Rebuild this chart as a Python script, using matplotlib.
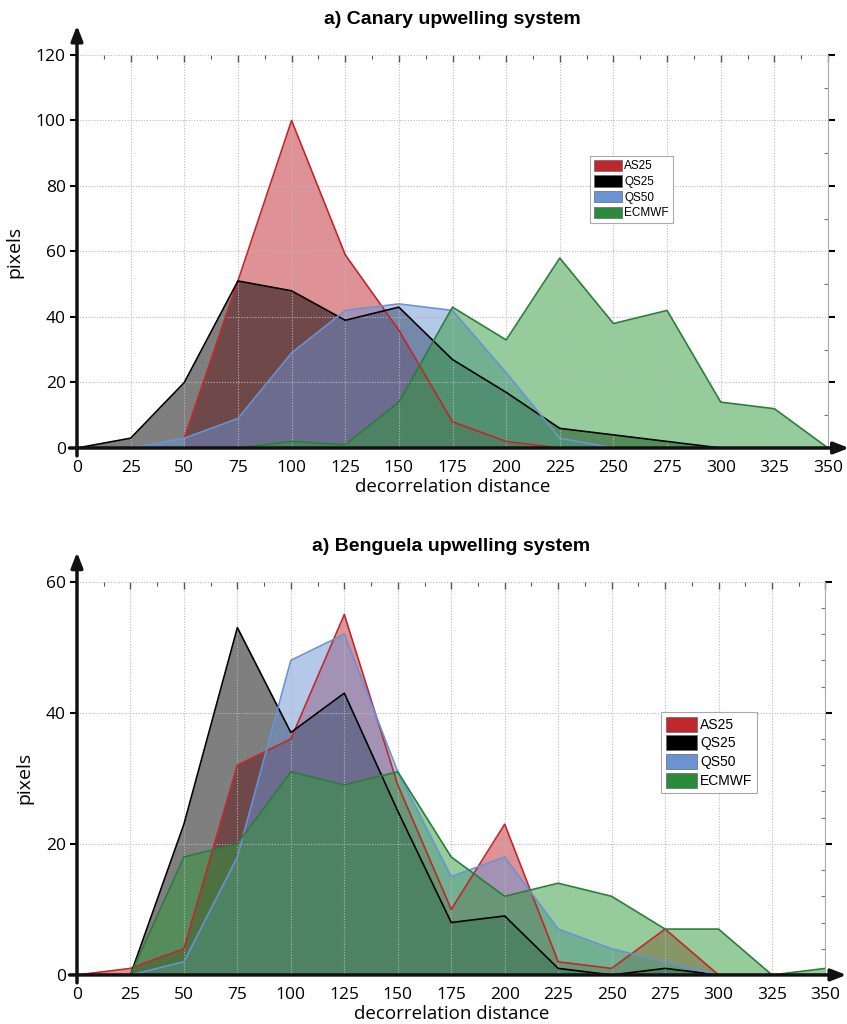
#!/usr/bin/env python3

import numpy as np
import matplotlib
matplotlib.use('Agg')
import matplotlib.pyplot as plt
from matplotlib.patches import Patch

# decorrelation distance bins
distance = [0, 25, 50, 75, 100, 125, 150, 175, 200, 225, 250, 275, 300, 325, 350]
nan = np.nan

# Canary upwelling system
canary_as25 = [nan, nan, 3, 51, 100, 59, 36, 8, 2, 0, nan, nan, nan, nan, nan]
canary_qs25 = [0, 3, 20, 51, 48, 39, 43, 27, 17, 6, 4, 2, 0, nan, nan]
canary_qs50 = [nan, 0, 3, 9, 29, 42, 44, 42, 23, 3, 0, nan, nan, nan, nan]
canary_ecmwf = [nan, nan, nan, 0, 2, 1, 14, 43, 33, 58, 38, 42, 14, 12, 0]

# Benguela upwelling system
benguela_as25 = [0, 1, 4, 32, 36, 55, 29, 10, 23, 2, 1, 7, 0, nan, nan]
benguela_qs25 = [nan, 0, 23, 53, 37, 43, 25, 8, 9, 1, 0, 1, 0, 0, 0]
benguela_qs50 = [nan, 0, 2, 18, 48, 52, 31, 15, 18, 7, 4, 2, 0, nan, nan]
benguela_ecmwf = [nan, 0, 18, 20, 31, 29, 31, 18, 12, 14, 12, 7, 7, 0, 1]

names = ['AS25', 'QS25', 'QS50', 'ECMWF']
line_colors = ['#c0272d', '#000000', '#6a93d3', '#2b7d3a']
fill_colors = ['#c0272d', '#000000', '#6a93d3', '#2f9a3a']
legend_colors = ['#c0272d', '#000000', '#6a93d3', '#2a8b3c']

plt.rcParams['font.family'] = ['Open Sans', 'DejaVu Sans']


def draw_panel(ax, series, title, ymax, ystep, yminor, legend_box, legend_size,
               handle_h):
    x_all = np.array(distance, dtype=float)
    for vals, lc, fc in zip(series, line_colors, fill_colors):
        y = np.array(vals, dtype=float)
        ok = ~np.isnan(y)
        ax.fill_between(x_all[ok], y[ok], 0, color=fc, alpha=0.5, lw=0, zorder=1)
        ax.plot(x_all[ok], y[ok], color=lc, lw=1.2, zorder=2)

    ax.set_xlim(0, 350)
    ax.set_ylim(0, ymax)
    ax.set_xticks(distance)
    ax.set_xticks(np.arange(12.5, 350, 25), minor=True)
    ax.set_yticks(np.arange(0, ymax + 1, ystep))
    ax.set_yticks(np.arange(0, ymax + 1, yminor), minor=True)
    ax.grid(True, which='major', color='#b8b8b8', lw=0.8, ls=(0, (1, 1.5)))

    for side in ['left', 'bottom', 'top']:
        ax.spines[side].set_visible(False)
    ax.spines['right'].set_color('#aaaaaa')
    ax.spines['right'].set_linewidth(0.8)

    ax.tick_params(axis='x', which='both', bottom=False, top=True,
                   direction='in', labelbottom=True, labelsize=12.5,
                   pad=9, color='#555555')
    ax.tick_params(axis='x', which='major', length=5, width=1)
    ax.tick_params(axis='x', which='minor', length=3, width=0.8)
    ax.tick_params(axis='y', which='major', left=True, right=True,
                   labelsize=12.5, length=5, width=1.5, pad=3)
    ax.tick_params(axis='y', which='minor', left=False, right=True,
                   direction='in', length=3, width=0.8, color='#777777')

    # axis arrows
    ax.annotate('', xy=(0, 1.075), xytext=(0, -0.02), xycoords='axes fraction',
                arrowprops=dict(arrowstyle='-|>,head_length=0.9,head_width=0.35',
                                color='#111111', lw=2.5, shrinkA=0, shrinkB=0),
                annotation_clip=False, zorder=5)
    ax.annotate('', xy=(1.028, 0), xytext=(-0.01, 0), xycoords='axes fraction',
                arrowprops=dict(arrowstyle='-|>,head_length=0.9,head_width=0.35',
                                color='#111111', lw=2.5, shrinkA=0, shrinkB=0),
                annotation_clip=False, zorder=5)

    ax.set_title(title, fontsize=14, fontweight='bold',
                 family='Liberation Sans', pad=22)
    ax.set_xlabel('decorrelation distance', fontsize=13.5, labelpad=1)
    ax.set_ylabel('pixels', fontsize=14, labelpad=9)

    handles = [Patch(facecolor=c, edgecolor='#666666', lw=0.5) for c in legend_colors]
    leg = ax.legend(handles, names, loc='upper left', bbox_to_anchor=legend_box,
                    bbox_transform=ax.figure.transFigure,
                    prop={'family': 'Liberation Sans', 'size': legend_size},
                    fancybox=False, framealpha=1, edgecolor='#aaaaaa',
                    handlelength=2.3, handleheight=handle_h, handletextpad=0.2,
                    labelspacing=0.25, borderpad=0.35, borderaxespad=0)
    leg.get_frame().set_linewidth(0.8)
    leg.set_zorder(6)


fig = plt.figure(figsize=(8.47, 10.24), dpi=100)
ax1 = fig.add_axes([0.0909, 0.5625, 0.8867, 0.3838])
ax2 = fig.add_axes([0.0909, 0.0479, 0.8837, 0.3840])

draw_panel(ax1, [canary_as25, canary_qs25, canary_qs50, canary_ecmwf],
           'a) Canary upwelling system', 120, 20, 10, (0.697, 0.848), 8.5, 1.1)
draw_panel(ax2, [benguela_as25, benguela_qs25, benguela_qs50, benguela_ecmwf],
           'a) Benguela upwelling system', 60, 20, 4, (0.780, 0.305), 10, 1.3)

plt.savefig('out.png', dpi=100)
